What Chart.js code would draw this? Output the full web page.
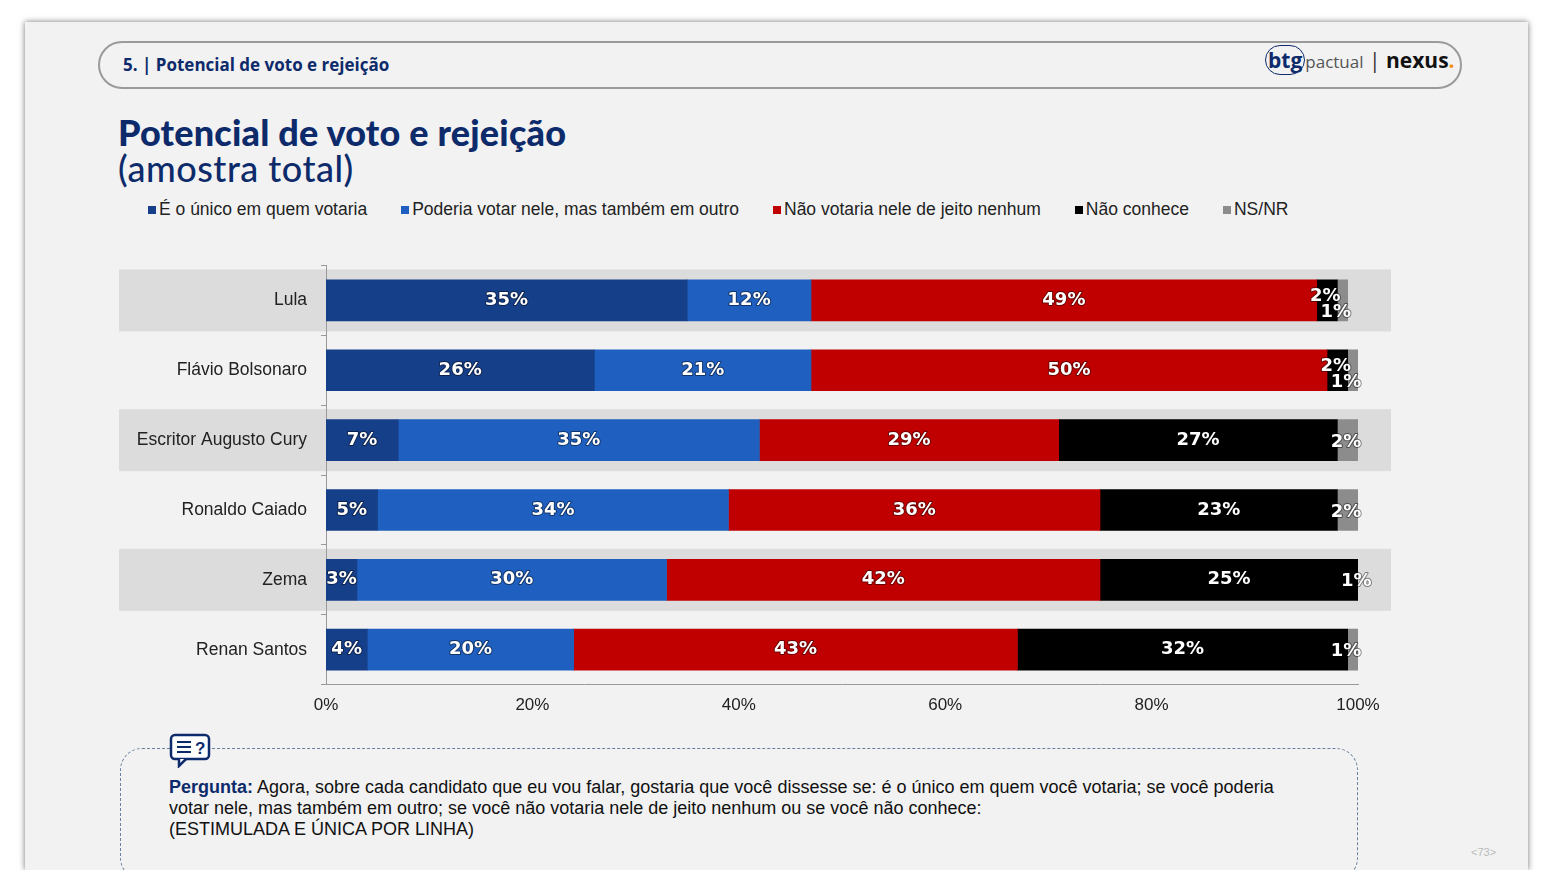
<!DOCTYPE html>
<html><head><meta charset="utf-8">
<script src="https://cdn.jsdelivr.net/npm/chart.js@4"></script>
<style>
body{margin:0;width:1552px;height:896px;background:#fff;font-family:"Liberation Sans",Arial,sans-serif;position:relative;overflow:hidden}
#card{position:absolute;left:25px;top:22px;width:1503px;height:848px;background:#f2f2f2;box-shadow:0 0 6px rgba(0,0,0,.55)}
#pill{position:absolute;left:98px;top:41px;width:1360px;height:44px;border:2px solid #9a9a9a;border-radius:24px}
#hdr{position:absolute;left:123px;top:53px;font:bold 17px "Open Sans",sans-serif;color:#0d2a6b}
#logo{position:absolute;left:1265px;top:46px;font:21px "Open Sans",sans-serif;color:#0d2a6b}
#t1{position:absolute;left:118px;top:110px;font:900 36px Lato,sans-serif;color:#0d2a6b;letter-spacing:.2px}
#t2{position:absolute;left:118px;top:146px;font:500 36px Lato,sans-serif;color:#0d2a6b;letter-spacing:.5px}
#leg{position:absolute;left:148px;top:199px;font:17.5px "Liberation Sans",Arial;color:#222;white-space:nowrap}
#leg span{margin-right:34px}#leg i{display:inline-block;width:8px;height:8px;margin-right:3px;vertical-align:1px}
#cw{position:absolute;left:119px;top:241px;width:1272px;height:489px}
#foot{position:absolute;left:120px;top:748px;width:1236px;height:130px;border:1.5px dashed #6a7fa0;border-radius:22px}
#ftxt{position:absolute;left:169px;top:777px;font:18px "Liberation Sans",Arial;color:#111;line-height:21px;width:1140px}
#pg{position:absolute;left:1471px;top:846px;font:11px Arial;color:#bbb}
#cover{position:absolute;left:0;top:870px;width:1552px;height:26px;background:#fff}
</style></head><body>
<div id="card"></div><div id="pill"></div>
<div id="hdr">5. | Potencial de voto e rejeição</div>
<div id="logo"><span style="border:1.5px solid #0d2a6b;border-radius:16px;padding:0 2px;font-weight:bold">btg</span><span style="color:#555;font-size:17px">pactual</span> <span style="color:#333">|</span> <b style="color:#111">nexus</b><b style="color:#f28c00">.</b></div>
<div id="t1">Potencial de voto e rejeição</div>
<div id="t2">(amostra total)</div>
<div id="leg"><span><i style="background:#163f8a"></i>É o único em quem votaria</span><span><i style="background:#1f5fbf"></i>Poderia votar nele, mas também em outro</span><span><i style="background:#c00000"></i>Não votaria nele de jeito nenhum</span><span><i style="background:#000"></i>Não conhece</span><span><i style="background:#8c8c8c"></i>NS/NR</span></div>
<div id="cw"><canvas id="c"></canvas></div>
<div id="foot"></div>
<div id="cover"></div>
<svg style="position:absolute;left:169px;top:732px" width="44" height="36"><rect x="2" y="3" width="38" height="24" rx="4" fill="#fff" stroke="#0d2a6b" stroke-width="2.5"/><path d="M10 27 L10 34 L17 27" fill="#fff" stroke="#0d2a6b" stroke-width="2.5"/><line x1="8" y1="10" x2="22" y2="10" stroke="#0d2a6b" stroke-width="2"/><line x1="8" y1="15" x2="22" y2="15" stroke="#0d2a6b" stroke-width="2"/><line x1="8" y1="20" x2="22" y2="20" stroke="#0d2a6b" stroke-width="2"/><text x="26" y="22" font-size="17" font-weight="bold" fill="#0d2a6b">?</text></svg>
<div id="ftxt"><b style="color:#0d2a6b">Pergunta:</b> Agora, sobre cada candidato que eu vou falar, gostaria que você dissesse se: é o único em quem você votaria; se você poderia votar nele, mas também em outro; se você não votaria nele de jeito nenhum ou se você não conhece:<br>(ESTIMULADA E ÚNICA POR LINHA)</div>
<div id="pg">&lt;73&gt;</div>
<script>
const categories=["Lula","Flávio Bolsonaro","Escritor Augusto Cury","Ronaldo Caiado","Zema","Renan Santos"];
const seriesNames=["É o único em quem votaria","Poderia votar nele, mas também em outro","Não votaria nele de jeito nenhum","Não conhece","NS/NR"];
const unico=[35,26,7,5,3,4];
const poderia=[12,21,35,34,30,20];
const naoVotaria=[49,50,29,36,42,43];
const naoConhece=[2,2,27,23,25,32];
const nsnr=[1,1,2,2,1,1];
const xTicks=[0,20,40,60,80,100];
const colors=["#163f8a","#1f5fbf","#c00000","#000000","#8c8c8c"];
const vals=[unico,poderia,naoVotaria,naoConhece,nsnr];
const bands={id:"bands",beforeDraw(ch){const c=ch.ctx,y=ch.scales.y;c.save();c.fillStyle="#dcdcdc";
 categories.forEach((_,i)=>{if(i%2==0){const p=y.getPixelForValue(i);c.fillRect(0,p-31,ch.width,62);}});c.restore();}};
const labels={id:"labels",afterDatasetsDraw(ch){const c=ch.ctx;c.save();c.font="bold 18px 'DejaVu Sans',sans-serif";c.textAlign="center";c.textBaseline="middle";
 c.fillStyle="#fff";c.strokeStyle="rgba(0,0,0,.45)";c.lineWidth=2;c.lineJoin="round";
 ch.data.datasets.forEach((ds,di)=>{ch.getDatasetMeta(di).data.forEach((b,i)=>{const v=ds.data[i];let x=(b.x+b.base)/2,y=b.y;
  if(di==3&&v<=2){x=b.x-12;y=b.y-4;}
  if(di==4){x=b.x-12;y=b.y+(vals[3][i]<=2?12:2);}
  c.strokeText(v+"%",x,y);c.fillText(v+"%",x,y);});});c.restore();}};
new Chart(document.getElementById("c"),{type:"bar",
 data:{labels:categories,datasets:vals.map((d,i)=>({label:seriesNames[i],data:d,backgroundColor:colors[i],barThickness:41}))},
 options:{indexAxis:"y",responsive:true,maintainAspectRatio:false,animation:false,
  layout:{padding:{top:5,right:33,bottom:8,left:0}},
  plugins:{legend:{display:false},tooltip:{enabled:false}},
  scales:{x:{stacked:true,min:0,max:100,afterBuildTicks:a=>{a.ticks=xTicks.map(v=>({value:v}));},
    ticks:{callback:v=>v+"%",color:"#222",font:{size:17,family:"'Liberation Sans',Arial"},padding:6},
    grid:{display:false,drawTicks:true,tickLength:5,color:"#999"},border:{color:"#999"}},
   y:{stacked:true,afterFit:s=>{s.width=207;},ticks:{autoSkip:false,color:"#222",font:{size:17.5,family:"'Liberation Sans',Arial"},padding:14},
    grid:{display:true,drawOnChartArea:false,offset:true,tickLength:5,color:"#999"},border:{color:"#999"}}}},
 plugins:[bands,labels]});
</script></body></html>
